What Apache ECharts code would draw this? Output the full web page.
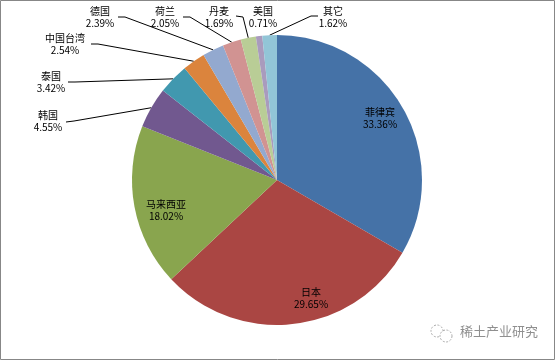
<!DOCTYPE html>
<html><head><meta charset="utf-8">
<script src="https://cdn.jsdelivr.net/npm/echarts@6/dist/echarts.min.js"></script>
<style>html,body{margin:0;padding:0;background:#fff}#c{width:555px;height:360px}</style>
</head><body><div id="c"></div>
<script>
const categories = ['菲律宾','日本','马来西亚','韩国','泰国','中国台湾','德国','荷兰','丹麦','美国','其它'];
const shares = [33.36, 29.65, 18.02, 4.55, 3.42, 2.54, 2.39, 2.05, 1.69, 0.71, 1.62];
const watermarkText = '稀土产业研究';

const colors = ['#4572A7','#AA4643','#89A54E','#71588F','#4198AF','#DB843D','#93A9CF','#D19392','#B9CD96','#A99BBD','#92C5D7'];
const CX = 277, CY = 180, R = 145;
const FONT = '"Noto Sans CJK SC", "Noto Sans", sans-serif';
// label layout (centre of label block) and leader-line start segments
const labelAnchor = [[380,118],[311,298],[166,210],[48,121],[51,82],[65,44],[100,17],[165,17],[219,17],[263,17],[333,17]];
const lineStart = [null,null,null,[[66,122],[74,121]],[[68,82],[75,82]],[[91,44],[98,44]],[[118,17],[125,17]],[[183,17],[190,17]],[[236,16],[243,17]],null,[[318,16],[311,16]]];
const insideSet = [0,1,2];

const total = shares.reduce((a,b)=>a+b,0);
const midAngles = [];
let cum = 0;
shares.forEach(v => { midAngles.push((cum + v/2) / total * 2 * Math.PI); cum += v; });

const data = categories.map((name, i) => ({
  name, value: shares[i],
  itemStyle: { color: colors[i] },
  label: { position: insideSet.includes(i) ? 'inside' : 'outside' },
  labelLine: { show: !!lineStart[i] }
}));

const chart = echarts.init(document.getElementById('c'), null, {renderer: 'canvas'});
chart.setOption({
  animation: false,
  graphic: [
    { type: 'rect', shape: {x: 0.5, y: 0.5, width: 554, height: 359}, style: {fill: 'none', stroke: '#878787', lineWidth: 1}, z: 0 },
    { type: 'circle', shape: {cx: 437, cy: 331, r: 6}, style: {fill: 'none', stroke: '#aaa', lineWidth: 1, lineDash: [2, 1.5]}, z: 10 },
    { type: 'circle', shape: {cx: 446, cy: 336, r: 6}, style: {fill: '#fff', stroke: '#aaa', lineWidth: 1, lineDash: [2, 1.5]}, z: 11 },
    { type: 'text', left: 460, top: 325, style: {text: watermarkText, fill: '#8f8f8f', font: '13px ' + FONT}, z: 12 }
  ],
  series: [{
    type: 'pie',
    center: [CX, CY],
    radius: [0, R],
    startAngle: 90,
    clockwise: true,
    avoidLabelOverlap: false,
    data: data,
    itemStyle: { borderWidth: 0 },
    emphasis: { disabled: true },
    label: {
      color: '#000', fontSize: 10, lineHeight: 12.5, fontFamily: FONT,
      formatter: p => p.name + '\n' + p.value.toFixed(2) + '%'
    },
    labelLine: { lineStyle: { color: '#000', width: 1 } },
    labelLayout: function (params) {
      const i = params.dataIndex;
      const a = labelAnchor[i];
      const out = { x: a[0], y: a[1], align: 'center', verticalAlign: 'middle' };
      if (lineStart[i]) {
        const ang = midAngles[i];
        const end = [CX + R * Math.sin(ang), CY - R * Math.cos(ang)];
        out.labelLinePoints = [lineStart[i][0], lineStart[i][1], end];
      }
      return out;
    }
  }]
});
</script></body></html>
